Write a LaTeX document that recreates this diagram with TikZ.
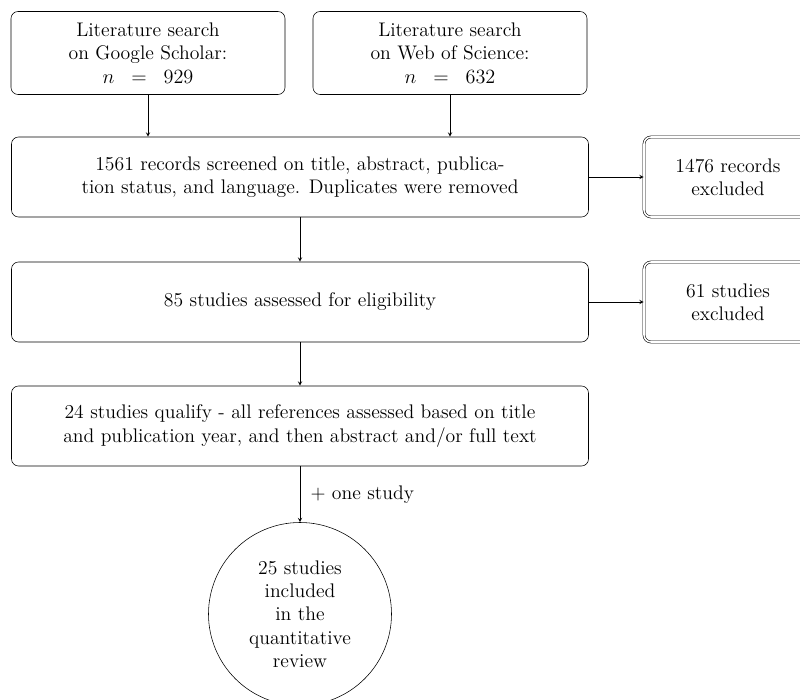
\documentclass[tikz,border=0pt]{standalone}
\usepackage{amsmath,amssymb}
\usepackage{tikz}
\usetikzlibrary{shapes.geometric, arrows, positioning}
\tikzstyle{searchbox} = [rectangle, rounded corners=5pt, minimum width=6.85cm, minimum height=2.075cm, text centered, draw=black, align=center]
\tikzstyle{widebox} = [rectangle, rounded corners=5pt, minimum width=14.425cm, minimum height=2cm, text centered, draw=black, align=center]
\tikzstyle{excludebox} = [rectangle, rounded corners=5pt, minimum width=4.2cm, minimum height=2cm, text centered, draw=black, double, double distance=1.1pt, align=center]
\tikzstyle{resultcircle} = [circle, minimum size=4.575cm, text centered, draw=black, align=center]
\tikzstyle{arrow} = [->,>=stealth]

\begin{document}
\begin{tikzpicture}[node distance=2cm, font=\fontsize{14pt}{16.6pt}\selectfont]
        \useasboundingbox (-3.7cm,1.325cm) rectangle (16.3cm,-16.175cm);
        \node (scholar) [searchbox] {Literature search\\on Google Scholar:\\$n \;\;=\;\; 929$};
        \node (wos) [searchbox, right of=scholar, xshift=5.55cm] {Literature search\\on Web of Science:\\$n \;\;=\;\; 632$};
        \node (screen) [widebox, below of=scholar, xshift=3.8cm, yshift=-1.1cm] {1561 records screened on title, abstract, publica-\\tion status, and language. Duplicates were removed};
        \node (excl1) [excludebox, right of=screen, xshift=8.7cm] {1476 records\\excluded};
        \node (assess) [widebox, below of=screen, yshift=-1.125cm] {85 studies assessed for eligibility};
        \node (excl2) [excludebox, right of=assess, xshift=8.7cm] {61 studies\\excluded};
        \node (qualify) [widebox, below of=assess, yshift=-1.1cm] {24 studies qualify - all references assessed based on title\\and publication year, and then abstract and/or full text};
        \node (review) [resultcircle, below of=qualify, yshift=-2.7cm] {25 studies\\included\\in the\\quantitative\\review};
        \draw [arrow] (scholar) -- (scholar |- screen.north);
        \draw [arrow] (wos) -- (wos |- screen.north);
        \draw [arrow] (screen) -- (excl1);
        \draw [arrow] (screen) -- (assess);
        \draw [arrow] (assess) -- (excl2);
        \draw [arrow] (assess) -- (qualify);
        \draw [arrow] (qualify) -- node[anchor=west, xshift=4pt] {+ one study} (review);
\end{tikzpicture}
\end{document}
